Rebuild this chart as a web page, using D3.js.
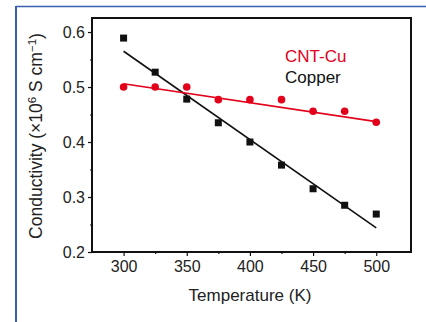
<!DOCTYPE html>
<html>
<head>
<meta charset="utf-8">
<script src="https://cdn.jsdelivr.net/npm/d3@7"></script>
<style>
  body { margin: 0; background: #fff; }
  svg text { font-family: Arial, 'Liberation Sans', sans-serif; }
</style>
</head>
<body>
<svg id="chart" width="426" height="322"></svg>
<script>
// data
const temps = [300, 325, 350, 375, 400, 425, 450, 475, 500]
const cntCu = [0.500, 0.500, 0.500, 0.477, 0.477, 0.477, 0.456, 0.456, 0.436]
const copper = [0.589, 0.527, 0.478, 0.435, 0.400, 0.358, 0.315, 0.285, 0.269]
const cntCuFit = [[300, 0.506], [500, 0.437]]
const copperFit = [[300, 0.565], [500, 0.244]]
const xTicks = [300, 350, 400, 450, 500]
const yTicks = [0.2, 0.3, 0.4, 0.5, 0.6]

const svg = d3.select('#chart')
const m = { left: 92, top: 18, right: 411, bottom: 252 }

// blue frame of the screenshot
svg.append('line').attr('x1', 16).attr('x2', 426).attr('y1', 6.5).attr('y2', 6.5)
  .attr('stroke', '#3a5fb0').attr('stroke-width', 1.5)
svg.append('line').attr('x1', 16).attr('x2', 16).attr('y1', 6).attr('y2', 322)
  .attr('stroke', '#3a5fb0').attr('stroke-width', 2)

const x = d3.scaleLinear().domain([275, 527.5]).range([m.left, m.right])
const y = d3.scaleLinear().domain([0.2, 0.6255]).range([m.bottom, m.top])

const g = svg.append('g')

// axes
const xAxis = g.append('g').attr('transform', `translate(0,${m.bottom})`)
  .call(d3.axisBottom(x).tickValues(xTicks).tickSize(4).tickPadding(5).tickFormat(d3.format('d')))
const xMinor = g.append('g').attr('transform', `translate(0,${m.bottom})`)
  .call(d3.axisBottom(x).tickValues([325, 375, 425, 475]).tickSize(2).tickFormat(''))
const yAxis = g.append('g').attr('transform', `translate(${m.left},0)`)
  .call(d3.axisLeft(y).tickValues(yTicks).tickSize(4).tickPadding(3).tickFormat(d3.format('.1f')))
const yMinor = g.append('g').attr('transform', `translate(${m.left},0)`)
  .call(d3.axisLeft(y).tickValues([0.25, 0.35, 0.45, 0.55]).tickSize(2).tickFormat(''))

;[xAxis, xMinor, yAxis, yMinor].forEach((a) => {
  a.select('.domain').remove()
  a.selectAll('line').attr('stroke', '#111').attr('stroke-width', 1.2)
  a.selectAll('text').attr('font-size', 16).attr('fill', '#222')
    .style('font-family', 'Arial, Liberation Sans, sans-serif')
})

// plot box
g.append('rect')
  .attr('x', m.left).attr('y', m.top)
  .attr('width', m.right - m.left).attr('height', m.bottom - m.top)
  .attr('fill', 'none').attr('stroke', '#111').attr('stroke-width', 2)

// fit lines
const line = d3.line().x((d) => x(d[0])).y((d) => y(d[1]))
g.append('path').datum(copperFit).attr('d', line)
  .attr('stroke', '#111').attr('stroke-width', 1.6).attr('fill', 'none')
g.append('path').datum(cntCuFit).attr('d', line)
  .attr('stroke', '#e3001b').attr('stroke-width', 1.6).attr('fill', 'none')

// copper squares
g.selectAll('.sq')
  .data(temps.map((t, i) => [t, copper[i]]))
  .enter().append('rect')
  .attr('class', 'sq')
  .attr('x', (d) => x(d[0]) - 3.5)
  .attr('y', (d) => y(d[1]) - 3.5)
  .attr('width', 7).attr('height', 7)
  .attr('fill', '#111')

// cnt-cu circles
g.selectAll('.dot')
  .data(temps.map((t, i) => [t, cntCu[i]]))
  .enter().append('circle')
  .attr('class', 'dot')
  .attr('cx', (d) => x(d[0]))
  .attr('cy', (d) => y(d[1]))
  .attr('r', 3.8)
  .attr('fill', '#e3001b')

// legend
g.append('text').attr('x', 285).attr('y', 62).attr('font-size', 17)
  .attr('fill', '#e3001b').text('CNT-Cu')
g.append('text').attr('x', 285).attr('y', 83).attr('font-size', 17)
  .attr('fill', '#111').text('Copper')

// axis titles
g.append('text')
  .attr('x', 250).attr('y', 301)
  .attr('text-anchor', 'middle').attr('font-size', 17).attr('fill', '#222')
  .text('Temperature (K)')

const yl = g.append('text')
  .attr('transform', 'translate(42,136) rotate(-90)')
  .attr('text-anchor', 'middle').attr('font-size', 17.5).attr('fill', '#222')
yl.append('tspan').text('Conductivity (×10')
yl.append('tspan').attr('dy', -6).attr('font-size', 11.5).text('6')
yl.append('tspan').attr('dy', 6).text(' S cm')
yl.append('tspan').attr('dy', -6).attr('font-size', 11.5).text('−1')
yl.append('tspan').attr('dy', 6).text(')')
</script>
</body>
</html>
